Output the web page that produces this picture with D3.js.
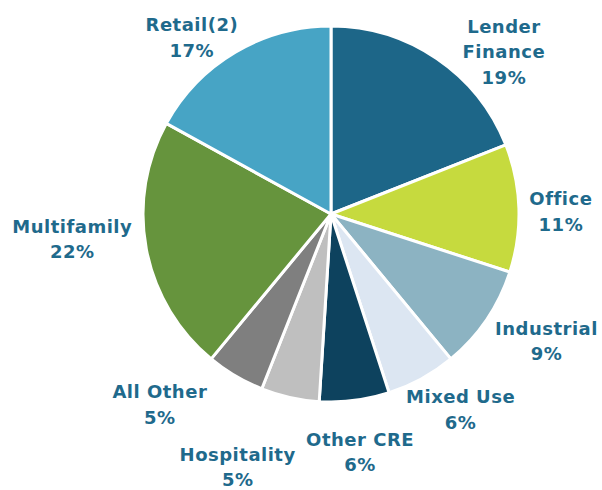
<!DOCTYPE html>
<html>
<head>
<meta charset="utf-8">
<script src="https://cdn.jsdelivr.net/npm/d3@7"></script>
<style>
  body { margin: 0; background: #ffffff; }
  svg { display: block; }
</style>
</head>
<body>
<div id="mainDiv"></div>
<script>

// categories, clockwise from 12 o'clock
var categories = ["Lender\nFinance", "Office", "Industrial", "Mixed Use", "Other CRE",
                  "Hospitality", "All Other", "Multifamily", "Retail(2)"];

var shares = [19, 11, 9, 6, 6, 5, 5, 22, 17];

var sliceColors = ["#1d6688", "#c6da3e", "#8cb3c2", "#dce6f2", "#0d425e",
                   "#bfbfbf", "#7f7f7f", "#66943d", "#47a4c5"];

// label offsets from the arc centroid (excel style placement, not centred)
var labelNudge = [[38, 36], [-10, 5], [17, -8], [14, -15], [-1, 0],
                  [-41, 19], [-49, -16], [-23, -20], [-17, 30]];

var width = 602;
var height = 490;
var cx = 331;
var cy = 214;
var radius = 188;
var labelRadius = 240;
var lineHeight = 25.5;
var textColor = "#1f6a8c";

function drawChart(){

    var svg = d3.select("#mainDiv").append("svg")
            .attr("width", width).attr("height", height).attr("id", "mainCanvas");

    var g = svg.append("g").attr("transform", "translate(" + cx + "," + cy + ")");

    var pie = d3.pie().sort(null).value(function(d){ return d; });
    var arcs = pie(shares);

    var arc = d3.arc().innerRadius(0).outerRadius(radius);
    var labelArc = d3.arc().innerRadius(labelRadius).outerRadius(labelRadius);

    // slices
    g.selectAll("path.slice").data(arcs).enter().append("path")
        .attr("class", "slice")
        .attr("d", arc)
        .attr("fill", function(d, i){ return sliceColors[i]; })
        .attr("stroke", "#ffffff")
        .attr("stroke-width", 3)
        .attr("stroke-linejoin", "round");

    // labels, name lines then the percent
    var labels = g.selectAll("text.label").data(arcs).enter().append("text")
        .attr("class", "label")
        .attr("text-anchor", "middle")
        .attr("fill", textColor)
        .style("font-family", "'DejaVu Sans', sans-serif")
        .style("font-weight", "bold")
        .style("font-size", "18px")
        .style("letter-spacing", "0.5px");

    labels.each(function(d, i){
        var c = labelArc.centroid(d);
        var x = c[0] + labelNudge[i][0];
        var y = c[1] + labelNudge[i][1];
        var lines = categories[i].split("\n");
        lines.push(shares[i] + "%");
        var firstBase = y - (lines.length - 1) * lineHeight / 2 + 6.5;
        var t = d3.select(this);
        for (var k = 0; k < lines.length; k++){
            t.append("tspan").attr("x", x).attr("y", firstBase + k * lineHeight).text(lines[k]);
        }
    });
}

drawChart();
</script>
</body>
</html>
